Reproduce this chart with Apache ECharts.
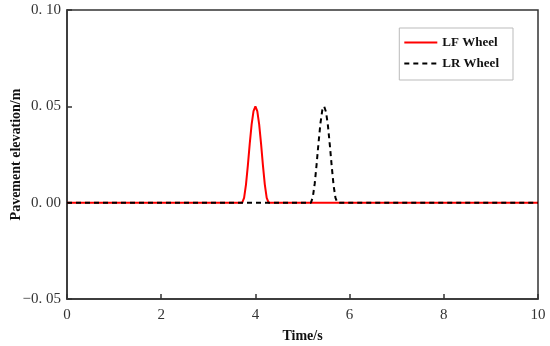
<!DOCTYPE html>
<html><head><meta charset="utf-8">
<script src="https://cdn.jsdelivr.net/npm/echarts@6/dist/echarts.min.js"></script>
<style>html,body{margin:0;padding:0;background:#fff}#c{width:550px;height:346px}</style>
</head><body><div id="c"></div>
<script>
const seriesNames = ['LF Wheel', 'LR Wheel'];
const lfWheel = [[0,0],[3.72,0],[3.76,0.0025],[3.80,0.0094],[3.84,0.0194],[3.88,0.0306],[3.92,0.0406],[3.96,0.0475],[4.00,0.05],[4.04,0.0475],[4.08,0.0406],[4.12,0.0306],[4.16,0.0194],[4.20,0.0094],[4.24,0.0025],[4.28,0],[10,0]];
const lrWheel = [[0,0],[5.18,0],[5.22,0.003],[5.26,0.010],[5.30,0.020],[5.34,0.031],[5.38,0.041],[5.42,0.048],[5.46,0.05],[5.50,0.047],[5.54,0.040],[5.58,0.030],[5.62,0.019],[5.66,0.009],[5.70,0.0025],[5.74,0],[10,0]];
const xTicks = [0,2,4,6,8,10];
const yTicks = [-0.05,0,0.05,0.10];

const chart = echarts.init(document.getElementById('c'));
const serif = '"Liberation Serif","Times New Roman",serif';
chart.setOption({
  animation: false,
  grid: {left: 67, right: 12, top: 10, bottom: 47, show: true, borderColor: '#333', borderWidth: 1.5,
         containLabel: false, outerBoundsMode: 'none'},
  legend: {
    right: 37, top: 28, orient: 'vertical', itemGap: 8,
    itemWidth: 33, itemHeight: 14,
    backgroundColor: '#fff',
    borderColor: '#bbb', borderWidth: 1, padding: [8, 14, 10, 4],
    textStyle: {fontFamily: serif, fontWeight: 'bold', fontSize: 13, color: '#111'},
    itemStyle: {opacity: 0},
    data: seriesNames
  },
  xAxis: {
    type: 'value', min: 0, max: 10, interval: 2,
    name: 'Time/s', nameLocation: 'middle', nameGap: 30, nameMoveOverlap: false,
    nameTextStyle: {fontFamily: serif, fontWeight: 'bold', fontSize: 14, color: '#111'},
    axisLine: {onZero: false, lineStyle: {color: '#333', width: 1.5}},
    axisTick: {inside: true, length: 5, lineStyle: {color: '#333', width: 1.5}},
    axisLabel: {fontFamily: serif, fontSize: 15, color: '#333', margin: 9,
      formatter: v => xTicks.includes(v) ? String(v) : ''},
    splitLine: {show: false}
  },
  yAxis: {
    type: 'value', min: -0.05, max: 0.10, interval: 0.05,
    name: 'Pavement elevation/m', nameLocation: 'middle', nameGap: 44, nameMoveOverlap: false,
    nameTextStyle: {fontFamily: serif, fontWeight: 'bold', fontSize: 14, color: '#111'},
    axisLine: {onZero: false, lineStyle: {color: '#333', width: 1.5}},
    axisTick: {inside: true, length: 5, lineStyle: {color: '#333', width: 1.5}},
    axisLabel: {fontFamily: serif, fontSize: 15, color: '#333', margin: 6,
      formatter: v => {
        const t = yTicks.find(k => Math.abs(k - v) < 1e-9);
        if (t === undefined) return '';
        const s = Math.abs(t).toFixed(2).replace('.', '. ');
        return (t < 0 ? '\u2212' + s : s);
      }},
    splitLine: {show: false}
  },
  series: [
    {name: seriesNames[0], type: 'line', data: lfWheel, symbol: 'none', showSymbol: false,
     lineStyle: {color: '#ff0000', width: 2}, itemStyle: {color: '#ff0000'}, z: 2},
    {name: seriesNames[1], type: 'line', data: lrWheel, symbol: 'none', showSymbol: false,
     lineStyle: {color: '#000', width: 2, type: [5, 4]}, itemStyle: {color: '#000'}, z: 3}
  ]
});
</script></body></html>
